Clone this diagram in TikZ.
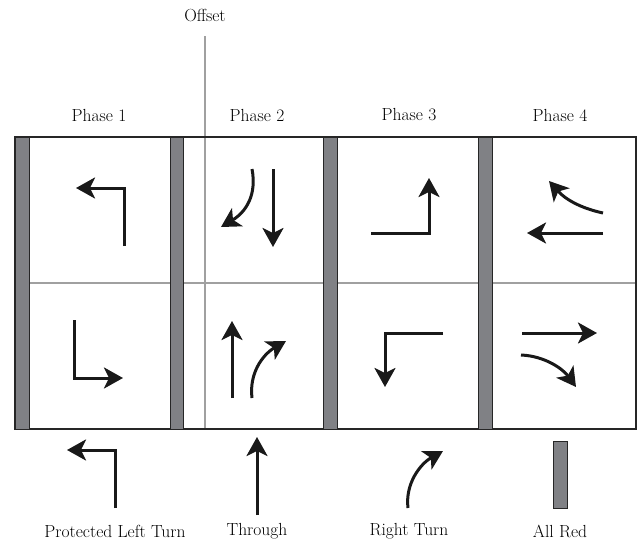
\documentclass[tikz,border=0pt]{standalone}
\usepackage{fontspec}
\usepackage{xcolor}
\usepackage{tikz}
\usetikzlibrary{shapes, arrows.meta, positioning}

\definecolor{barfill}{RGB}{128,129,133}
\definecolor{gridline}{RGB}{160,160,160}

\begin{document}
\begin{tikzpicture}[x=1pt, y=-1pt,
    lbl/.style={font=\fontsize{17.5}{20}\selectfont, inner sep=0pt},
    mv/.style={line width=3pt, draw=black!90, -{Stealth[length=19pt, width=21pt, inset=5pt]}},
    redbar/.style={fill=barfill, draw=black!85, line width=1pt}]
    \useasboundingbox (0,0) rectangle (641,544);

    % offset marker
    \node[lbl] (offset) at (205,15) {Offset};
    \draw[gridline, line width=1.3pt] (205,36) -- (205,429);

    % cell grid
    \draw[gridline, line width=1.3pt] (29,283) -- (636,283);
    \draw[black!85, line width=1.5pt] (15,137) rectangle (636,429);
    \draw[redbar] (15,137) rectangle (29,429);
    \draw[redbar] (170,137) rectangle (183,429);
    \draw[redbar] (323,137) rectangle (337,429);
    \draw[redbar] (478,137) rectangle (492,429);

    % phase headers
    \node[lbl] (phase1) at (99,115) {Phase 1};
    \node[lbl] (phase2) at (257,115) {Phase 2};
    \node[lbl] (phase3) at (409,115) {Phase 3};
    \node[lbl] (phase4) at (560,115) {Phase 4};

    % phase 1
    \draw[mv] (124,246) -- (124,188) -- (76,188);
    \draw[mv] (74,320) -- (74,378) -- (123,378);

    % phase 2
    \draw[mv] (273,169) -- (273,247);
    \draw[mv] (252,169) .. controls (257,195) and (246,212) .. (221,227);
    \draw[mv] (232,398) -- (232,321);
    \draw[mv] (252,398) .. controls (249,374) and (262,355) .. (286,341);

    % phase 3
    \draw[mv] (371,233) -- (429,233) -- (429,178);
    \draw[mv] (443,333) -- (385,333) -- (385,387);

    % phase 4
    \draw[mv] (603,233) -- (527,233);
    \draw[mv] (603,213) .. controls (580,208) and (565,199) .. (549,181);
    \draw[mv] (522,333) -- (597,333);
    \draw[mv] (521,355) .. controls (545,356) and (563,369) .. (576,387);

    % legend
    \draw[mv] (115,508) -- (115,450) -- (67,450);
    \draw[mv] (257,515) -- (257,437);
    \draw[mv] (408,508) .. controls (405,484) and (420,464) .. (443,451);
    \draw[redbar] (553,441) rectangle (567,508);

    \node[lbl] (protleft) at (115,531) {Protected Left Turn};
    \node[lbl] (through) at (257,531) {Through};
    \node[lbl] (rightturn) at (409,531) {Right Turn};
    \node[lbl] (allred) at (560,531) {All Red};
\end{tikzpicture}
\end{document}
